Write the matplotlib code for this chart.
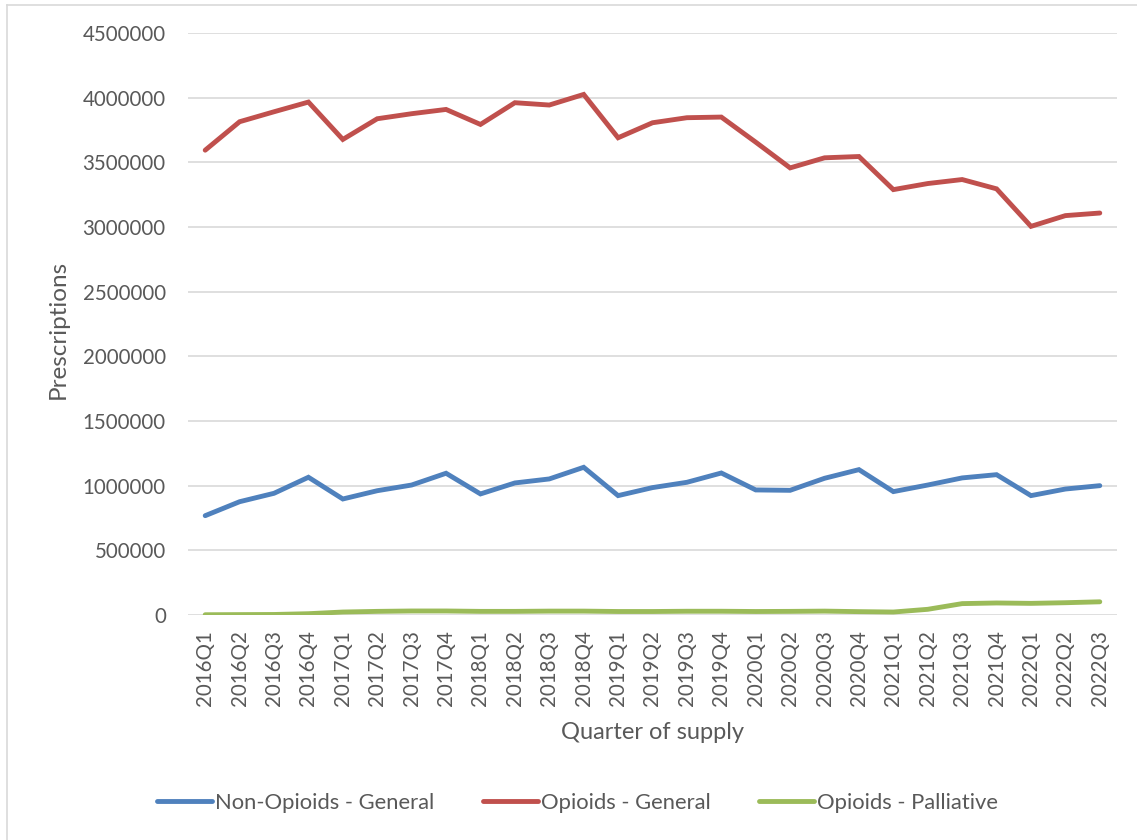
import matplotlib
matplotlib.use("Agg")
import matplotlib.pyplot as plt
from matplotlib.lines import Line2D

quarters = [f"{y}Q{q}" for y in range(2016, 2023) for q in range(1, 5)][:27]

non_opioids_general = [768000, 876000, 941000, 1065000, 897000, 961000, 1005000, 1096000,
                       936000, 1021000, 1052000, 1142000, 923000, 985000, 1026000, 1098000,
                       967000, 964000, 1057000, 1124000, 954000, 1005000, 1060000, 1085000,
                       923000, 974000, 1000000]
opioids_general = [3594000, 3814000, 3891000, 3966000, 3677000, 3837000, 3876000, 3909000,
                   3793000, 3961000, 3943000, 4025000, 3690000, 3806000, 3845000, 3850000,
                   3656000, 3457000, 3535000, 3545000, 3289000, 3336000, 3367000, 3295000,
                   3005000, 3088000, 3108000]
opioids_palliative = [2000, 3000, 4000, 10000, 23000, 28000, 31000, 31000,
                      28000, 28000, 30000, 30000, 27000, 27000, 29000, 29000,
                      27000, 28000, 30000, 26000, 23000, 44000, 88000, 93000,
                      90000, 95000, 102000]

series = [
    ("Non-Opioids - General", non_opioids_general, "#4F81BD"),
    ("Opioids - General", opioids_general, "#C0504D"),
    ("Opioids - Palliative", opioids_palliative, "#9BBB59"),
]

plt.rcParams["font.family"] = ["Lato", "DejaVu Sans"]
text_color = "#595959"

fig = plt.figure(figsize=(11.37, 8.4), dpi=100)
ax = fig.add_axes([188 / 1137, 225 / 840, 929 / 1137, 582 / 840])

x = list(range(len(quarters)))
for name, values, color in series:
    ax.plot(x, values, color=color, linewidth=3.5, solid_capstyle="round",
            solid_joinstyle="miter", label=name)

ax.set_xlim(-0.5, len(quarters) - 0.5)
ax.set_ylim(0, 4500000)
ax.set_yticks(range(0, 4500001, 500000))
ax.set_yticklabels([str(v) for v in range(0, 4500001, 500000)])
ax.set_xticks(x)
ax.set_xticklabels(quarters, rotation=90)
ax.grid(axis="y", color="#D9D9D9", linewidth=1.2)
ax.set_axisbelow(True)
for side in ["top", "right", "left", "bottom"]:
    ax.spines[side].set_visible(False)
ax.tick_params(axis="y", length=0, pad=16, labelsize=14.8, labelcolor=text_color)
ax.tick_params(axis="x", length=0, pad=11, labelsize=14.8, labelcolor=text_color)

ax.set_xlabel("Quarter of supply", fontsize=17, color=text_color)
ax.set_ylabel("Prescriptions", fontsize=17.5, color=text_color)
ax.xaxis.set_label_coords(0.5, -0.183)
ax.yaxis.set_label_coords(-0.128, 0.49)

fig.legend(loc="center", bbox_to_anchor=(0.508, 0.044), ncol=3, frameon=False,
           fontsize=15.8, handlelength=2.5, handletextpad=0.15, columnspacing=2.2,
           labelcolor=text_color)

# light outer border of the chart area
fig.add_artist(Line2D([7 / 1137, 7 / 1137], [0, 1 - 5 / 840], color="#D9D9D9", linewidth=1.2))
fig.add_artist(Line2D([7 / 1137, 1], [1 - 5 / 840, 1 - 5 / 840], color="#D9D9D9", linewidth=1.2))

fig.savefig("out.png", dpi=100, facecolor="white")
